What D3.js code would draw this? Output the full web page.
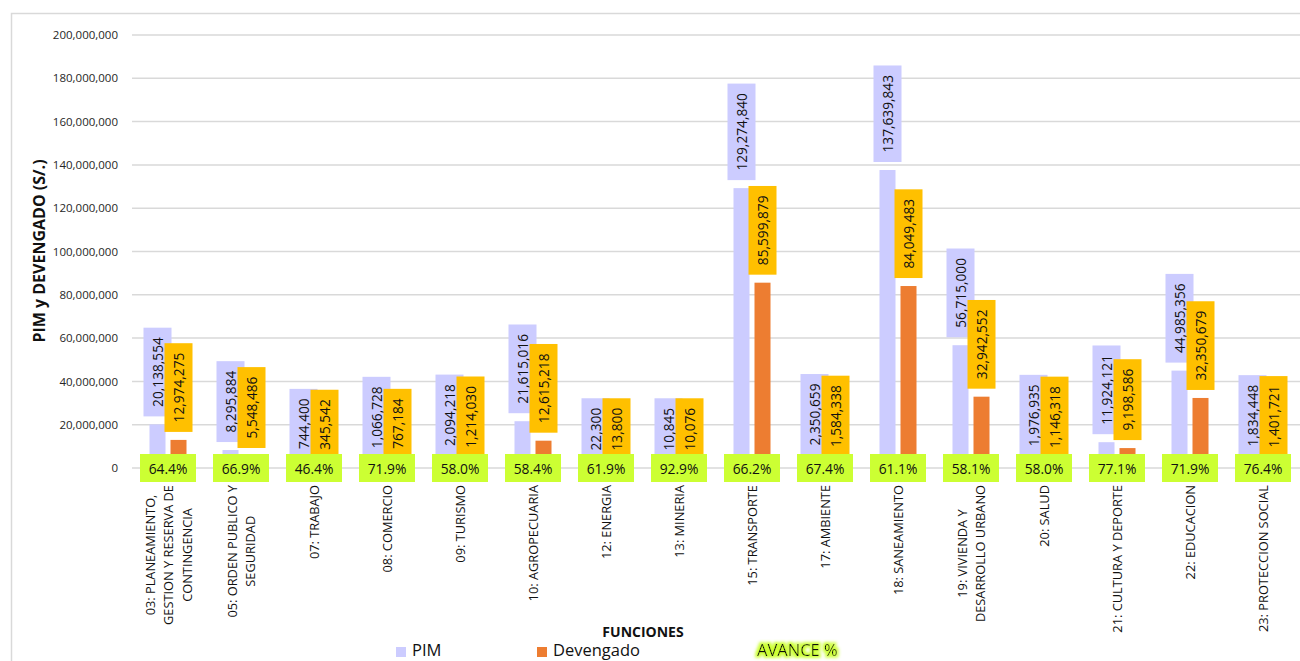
<!DOCTYPE html>
<html><head><meta charset="utf-8">
<script src="https://cdn.jsdelivr.net/npm/d3@7"></script>
<style>body{margin:0;background:#fff;} svg{display:block;font-family:'Open Sans',sans-serif;}</style>
</head><body><svg id="c" width="1300" height="661"></svg>
<script>
const categories = [
  "03: PLANEAMIENTO,\nGESTION Y RESERVA DE\nCONTINGENCIA",
  "05: ORDEN PUBLICO Y\nSEGURIDAD",
  "07: TRABAJO", "08: COMERCIO", "09: TURISMO", "10: AGROPECUARIA",
  "12: ENERGIA", "13: MINERIA", "15: TRANSPORTE", "17: AMBIENTE",
  "18: SANEAMIENTO", "19: VIVIENDA Y\nDESARROLLO URBANO", "20: SALUD",
  "21: CULTURA Y DEPORTE", "22: EDUCACION", "23: PROTECCION SOCIAL"
];
const pim = [20138554, 8295884, 744400, 1066728, 2094218, 21615016, 22300, 10845,
  129274840, 2350659, 137639843, 56715000, 1976935, 11924121, 44985356, 1834448];
const devengado = [12974275, 5548486, 345542, 767184, 1214030, 12615218, 13800, 10076,
  85599879, 1584338, 84049483, 32942552, 1146318, 9198586, 32350679, 1401721];
const avance = ["64.4%", "66.9%", "46.4%", "71.9%", "58.0%", "58.4%", "61.9%", "92.9%",
  "66.2%", "67.4%", "61.1%", "58.1%", "58.0%", "77.1%", "71.9%", "76.4%"];
const yTicks = [0, 20000000, 40000000, 60000000, 80000000, 100000000, 120000000,
  140000000, 160000000, 180000000, 200000000];
const seriesNames = ["PIM", "Devengado", "AVANCE %"];

const C_PIM = "#CCCCFF", C_DEV = "#ED7D31", C_DEVLBL = "#FFC000", C_AV = "#CCFF33";
const svg = d3.select("#c");
const defs = svg.append("defs");
const glow = defs.append("filter").attr("id", "glow").attr("x", "-20%").attr("y", "-50%").attr("width", "140%").attr("height", "200%");
glow.append("feMorphology").attr("in", "SourceAlpha").attr("operator", "dilate").attr("radius", 2).attr("result", "d");
glow.append("feGaussianBlur").attr("in", "d").attr("stdDeviation", 1.5).attr("result", "b");
glow.append("feFlood").attr("flood-color", C_AV).attr("result", "f");
glow.append("feComposite").attr("in", "f").attr("in2", "b").attr("operator", "in").attr("result", "g");
const m = glow.append("feMerge");
m.append("feMergeNode").attr("in", "g");
m.append("feMergeNode").attr("in", "SourceGraphic");

// chart border
svg.append("rect").attr("x", 11.5).attr("y", 13.5).attr("width", 1400).attr("height", 800)
  .attr("fill", "none").attr("stroke", "#d9d9d9").attr("stroke-width", 1.5);

const y = d3.scaleLinear().domain([0, 200000000]).range([468, 35]);
const x = d3.scaleBand().domain(d3.range(categories.length)).range([131.5, 1299.5]).padding(0);
const bw = 16, gap = 5;

// gridlines
svg.append("g").selectAll("line").data(yTicks).join("line")
  .attr("x1", 132).attr("x2", 1300).attr("y1", d => y(d)).attr("y2", d => y(d))
  .attr("stroke", "#d9d9d9").attr("stroke-width", 1.5);

// y axis labels
const yAxis = svg.append("g").attr("transform", "translate(132,0)")
  .call(d3.axisLeft(y).tickValues(yTicks).tickSize(0).tickPadding(14).tickFormat(d3.format(",")));
yAxis.select(".domain").remove();
yAxis.selectAll("text").attr("font-size", 11.5).attr("fill", "#262626").attr("font-family", "'Open Sans',sans-serif");

// y title
svg.append("text").attr("transform", "translate(45,251) rotate(-90)")
  .attr("text-anchor", "middle").attr("font-weight", "bold").attr("font-size", 16)
  .attr("fill", "#111").text("PIM y DEVENGADO (S/.)");

const cx = i => x(i) + x.bandwidth() / 2;
const pimX = i => cx(i) - gap / 2 - bw;
const devX = i => cx(i) + gap / 2;

// bars
svg.append("g").selectAll("rect").data(pim).join("rect")
  .attr("x", (d, i) => pimX(i)).attr("width", bw)
  .attr("y", d => y(d)).attr("height", d => y(0) - y(d)).attr("fill", C_PIM);
svg.append("g").selectAll("rect").data(devengado).join("rect")
  .attr("x", (d, i) => devX(i)).attr("width", bw)
  .attr("y", d => y(d)).attr("height", d => y(0) - y(d)).attr("fill", C_DEV);

// data labels
function labels(values, xf, bg) {
  const g = svg.append("g");
  values.forEach((v, i) => {
    const lx = xf(i) + bw / 2;
    const gg = g.append("g");
    const rect = gg.append("rect");
    const t = gg.append("text").attr("font-size", 13.7).attr("fill", "#111")
      .attr("text-anchor", "middle").attr("dominant-baseline", "central")
      .text(d3.format(",")(v));
    const len = t.node().getComputedTextLength();
    const h = len + 19, w = 28;
    const bottom = y(v) - 8;
    rect.attr("x", lx - w / 2).attr("y", bottom - h).attr("width", w).attr("height", h).attr("fill", bg);
    t.attr("transform", `translate(${lx},${bottom - h / 2}) rotate(-90)`);
  });
}
labels(pim, pimX, C_PIM);
labels(devengado, devX, C_DEVLBL);

// avance boxes
const av = svg.append("g").selectAll("g").data(avance).join("g")
  .attr("transform", (d, i) => `translate(${cx(i)},${y(0)})`);
av.append("rect").attr("x", -28).attr("y", -14).attr("width", 56).attr("height", 28).attr("fill", C_AV);
av.append("text").attr("text-anchor", "middle").attr("dominant-baseline", "central")
  .attr("font-size", 13.8).attr("fill", "#111").text(d => d);

// x labels
const xl = svg.append("g");
categories.forEach((c, i) => {
  const lines = c.split("\n");
  const g = xl.append("g").attr("transform", `translate(${cx(i)},485) rotate(-90)`);
  const ts = lines.map((l, k) => g.append("text").attr("font-size", 12.8).attr("fill", "#111")
    .attr("text-anchor", "middle").attr("dominant-baseline", "central")
    .attr("y", (k - (lines.length - 1) / 2) * 18.5).text(l));
  const L = d3.max(ts, t => t.node().getComputedTextLength());
  ts.forEach(t => t.attr("x", -L / 2));
});

// x title
svg.append("text").attr("x", 643).attr("y", 637).attr("text-anchor", "middle")
  .attr("font-weight", "bold").attr("font-size", 14).attr("fill", "#111").text("FUNCIONES");

// legend
const lg = svg.append("g");
lg.append("rect").attr("x", 396).attr("y", 647).attr("width", 10).attr("height", 10).attr("fill", C_PIM);
lg.append("text").attr("x", 412).attr("y", 656).attr("font-size", 16.5).attr("fill", "#111").text(seriesNames[0]);
lg.append("rect").attr("x", 537).attr("y", 647).attr("width", 10).attr("height", 10).attr("fill", C_DEV);
lg.append("text").attr("x", 553).attr("y", 656).attr("font-size", 16.5).attr("fill", "#111").text(seriesNames[1]);
lg.append("text").attr("x", 757).attr("y", 656).attr("font-size", 16.5).attr("fill", "#111")
  .attr("filter", "url(#glow)").text(seriesNames[2]);
</script></body></html>
